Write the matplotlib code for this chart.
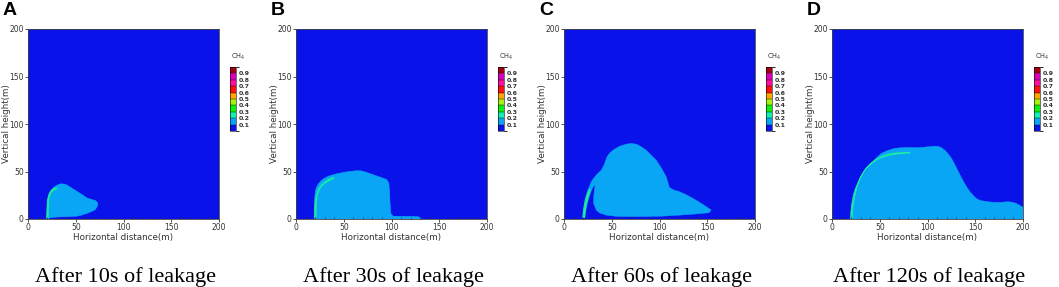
import numpy as np
import matplotlib
matplotlib.use('Agg')
import matplotlib.pyplot as plt
from matplotlib.colors import ListedColormap, BoundaryNorm
from matplotlib.ticker import MultipleLocator

# panel letters and captions
letters = ['A', 'B', 'C', 'D']
captions = ['After 10s of leakage', 'After 30s of leakage',
            'After 60s of leakage', 'After 120s of leakage']

# CH4 contour levels and colours (Tecplot style legend)
levels = [0.05, 0.1, 0.2, 0.3, 0.4, 0.5, 0.6, 0.7, 0.8, 0.9, 1.0]
level_ticks = [0.1, 0.2, 0.3, 0.4, 0.5, 0.6, 0.7, 0.8, 0.9]
level_colors = ['#0a12ea', '#0aa6f6', '#10f0b0', '#10ee10', '#a8f010',
                '#ffa800', '#ff1010', '#ff10a0', '#d800b8', '#a00010']

# plume outline (0.2 level), x / y in metres
plume_A_x = [20, 20.5, 21, 23, 27, 31, 34, 38, 41, 46, 51.5, 57, 62, 67, 70.6, 73, 73, 70.6, 66, 62, 56, 51.5, 46, 41, 34, 27, 23, 22, 20]
plume_A_y = [0, 10, 20, 28, 33.5, 36, 37, 36.8, 35.7, 32.5, 29, 25.5, 22, 20.5, 19.5, 17, 14, 10, 7.5, 6, 4, 3, 2.6, 2.4, 2.2, 1.8, 1.2, 0.5, 0]
plume_B_x = [19, 19, 19.3, 20.4, 22.5, 25, 29, 33.8, 40, 47.7, 55, 63.4, 68, 72, 77, 82.6, 89, 94.8, 97.2, 98, 98.3, 99.3, 101.7, 110, 120, 127.9, 131, 131]
plume_B_y = [0, 10, 20, 30.5, 35.5, 39, 42.5, 45, 47, 48.7, 50, 50.8, 50.7, 49.7, 48, 46, 43.8, 41.7, 38, 30, 20, 6, 3, 2.8, 2.8, 2.5, 0.7, 0]
plume_C_x = [19.4, 20.5, 21.9, 24, 26.4, 29, 32.3, 36, 39.2, 42, 45.1, 48, 51.4, 58, 65.3, 70, 75.7, 81, 86, 91, 96.5, 102, 107, 110.4, 115, 121, 128, 135, 142, 149, 154, 152, 138, 120, 103.5, 85, 68.75, 55, 44.4, 37, 33.7, 31, 31.2, 32.6, 30.5, 28.3, 26.4, 24.8, 23.6, 22.6, 21.9]
plume_C_y = [1.8, 12, 20, 28, 34, 40, 44.5, 48.5, 51.5, 57, 65.5, 69.5, 72.5, 76.5, 78.8, 79.5, 78.8, 76, 72.5, 67.5, 62, 53.5, 44.5, 33, 30.5, 28.7, 25.5, 21.7, 17.5, 13, 9.5, 6.6, 5.3, 4, 3, 2.6, 2.5, 2.8, 4, 6.5, 9.5, 16.5, 25, 35.7, 34, 29, 23.5, 18, 13, 7, 1.8]
plume_D_x = [19.5, 19.7, 20.2, 21.5, 23.7, 27, 30.7, 35.5, 41.1, 46, 51.6, 58, 65.5, 72, 79.4, 86, 93.4, 100, 107.3, 111, 114.3, 118, 121.3, 125, 128, 131.5, 135, 138.5, 142, 145.5, 149, 152, 156, 163, 170, 177, 184, 188, 192.7, 196.5, 200, 200]
plume_D_y = [0, 6, 13, 22, 30.5, 38, 44.5, 51.5, 58.5, 64, 69, 72, 74.3, 75, 75.3, 75.1, 75.3, 76, 76.7, 76.5, 75.3, 72.5, 69, 64, 58.5, 51.5, 44.5, 38, 32.2, 27.5, 23.5, 21, 19.3, 18.2, 17.5, 17.6, 18.2, 17.8, 16.5, 14.5, 12.3, 0]
plume_x = [plume_A_x, plume_B_x, plume_C_x, plume_D_x]
plume_y = [plume_A_y, plume_B_y, plume_C_y, plume_D_y]

# thin high-concentration streak next to the leak (0.3-0.4 level)
streak_A_x = [19.6, 19.9, 20.4, 21.8, 23.8, 26.5, 29.5, 30.5, 29, 26.5, 24.3, 22.5, 21.6, 21.2, 21]
streak_A_y = [1, 10, 20, 25.5, 29.5, 32, 32.8, 32, 31.2, 30.2, 28, 24, 19, 10, 1]
streak_B_x = [19.6, 19.7, 20, 21.4, 23.6, 26.8, 30.5, 33.8, 37, 39.8, 39, 36.5, 33.5, 30, 26.8, 24, 22.2, 21.3, 21]
streak_B_y = [2, 10, 17, 25, 31.5, 36, 39.2, 41.5, 43, 43.8, 42.6, 41.3, 39.6, 37.5, 34.5, 30.5, 25, 16, 2]
streak_C_x = [20, 20.5, 21.6, 23, 24.6, 26.5, 27.4, 26.5, 24.8, 23.3, 22.2, 21.5]
streak_C_y = [1.5, 8, 15, 21.5, 26.5, 30.5, 31, 26.5, 21, 15, 8, 1.5]
streak_D_x = [19.8, 20, 21.2, 23, 25.6, 29.7, 34.2, 39.2, 44.8, 51, 58.5, 65, 72.5, 78, 81.5, 78, 72.5, 65, 58.5, 52, 46.3, 40.5, 35.8, 31.5, 27.9, 25.5, 23.7, 22.3, 21.3, 20.8]
streak_D_y = [0.5, 8, 16.5, 26, 34, 43.5, 51.3, 57.3, 61.8, 65.3, 68, 69.3, 69.8, 70, 69.7, 69.2, 68.8, 68, 66.8, 64.8, 62, 58, 53.2, 46.8, 39.2, 31.5, 23.5, 15.5, 6, 0.5]
streak_x = [streak_A_x, streak_B_x, streak_C_x, streak_D_x]
streak_y = [streak_A_y, streak_B_y, streak_C_y, streak_D_y]

W, H = 1059, 287
fig = plt.figure(figsize=(W / 100, H / 100), dpi=100)

ax_left = [28, 296, 564, 832]  # pixel positions of each panel
ax_w, ax_top, ax_bot = 191, 29, 219
cb_w, cb_top, cb_bot = 6, 67, 131

cmap = ListedColormap(level_colors)
norm = BoundaryNorm(levels, cmap.N)

for i in range(4):
    ax = fig.add_axes([ax_left[i] / W, 1 - ax_bot / H, ax_w / W, (ax_bot - ax_top) / H])
    ax.set_facecolor(level_colors[0])
    ax.fill(plume_x[i], plume_y[i], color=level_colors[1], lw=0.3)
    ax.fill(streak_x[i], streak_y[i], facecolor='#38f070', edgecolor='#18e8a8',
            lw=0.7, joinstyle='round')
    ax.set_xlim(0, 200)
    ax.set_ylim(0, 200)
    ax.set_xticks([0, 50, 100, 150, 200])
    ax.set_yticks([0, 50, 100, 150, 200])
    ax.xaxis.set_minor_locator(MultipleLocator(10))
    ax.tick_params(which='major', direction='out', length=2, width=0.6,
                   labelsize=5.5, colors='#333333', pad=1)
    ax.tick_params(which='minor', axis='x', direction='in', length=1.8, width=0.5,
                   colors='#333333')
    ax.tick_params(which='minor', axis='y', length=0)
    for s in ax.spines.values():
        s.set_linewidth(0.6)
        s.set_color('#444444')
    ax.set_xlabel('Horizontal distance(m)', fontsize=6.3, color='#333333')
    ax.set_ylabel('Vertical height(m)', fontsize=6.3, color='#333333')
    ax.xaxis.set_label_coords(0.5, -14 / 190)
    ax.yaxis.set_label_coords(-17 / 191, 0.5)

    # contour legend
    x_cb = ax_left[i] + ax_w + 11
    cax = fig.add_axes([x_cb / W, 1 - cb_bot / H, cb_w / W, (cb_bot - cb_top) / H])
    cb = fig.colorbar(plt.cm.ScalarMappable(norm=norm, cmap=cmap), cax=cax,
                      boundaries=levels, ticks=level_ticks, drawedges=True)
    cb.outline.set_linewidth(0.4)
    cb.dividers.set_linewidth(0.3)
    cb.ax.tick_params(length=0, labelsize=4.5, pad=2)
    for t in cb.ax.get_yticklabels():
        t.set_fontweight('bold')
        t.set_color('#333333')
    fig.text((x_cb + 1) / W, 1 - 57 / H, 'CH$_4$', fontsize=4.8, color='#333333',
             ha='left', va='center')

    fig.text((ax_left[i] - 25) / W, 1 - 2 / H, letters[i], fontsize=14,
             fontweight='bold', family='Liberation Sans', ha='left', va='top')
    fig.text((ax_left[i] + ax_w / 2 + 2) / W, 1 - 282 / H, captions[i], fontsize=16,
             family='Liberation Serif', ha='center', va='baseline')

fig.savefig('out.png', dpi=100)
